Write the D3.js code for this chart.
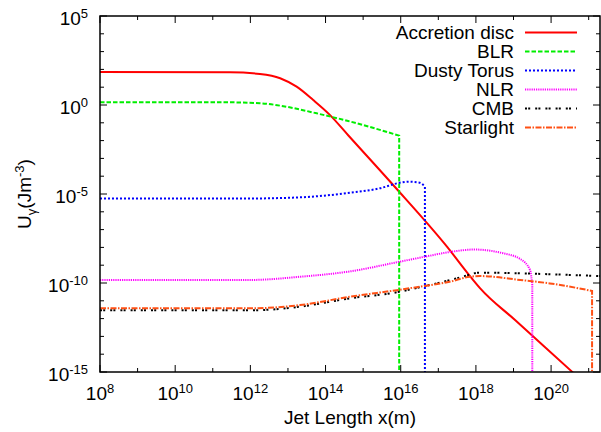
<!DOCTYPE html>
<html>
<head>
<meta charset="utf-8">
<script src="https://cdn.jsdelivr.net/npm/d3@7"></script>
<style>
  body { margin: 0; background: #fff; }
  text { font-family: "Liberation Sans", Arial, Helvetica, sans-serif; }
</style>
</head>
<body>
<div id="chart_container"></div>
<script>

// Data: x = jet length (m), u = energy density (J m^-3)

const discX = [1e8, 2.9e11, 1.8e12, 6.2e12, 1.7e13, 4.7e13, 1.3e14, 4e14, 6.3e15, 1.7e17, 7.8e17, 1.3e18, 1.1e19, 3.6e20, 5.6e20]
const discU = [71, 69, 55, 32, 10.7, 1.9, 0.28, 0.02, 3.2e-5, 1.1e-8, 1.8e-10, 5e-11, 8.3e-13, 1.05e-15, 4.5e-16]

const blrX = [1e8, 2.9e11, 1.8e12, 1.1e13, 5.8e13, 4e14, 9.1e15]
const blrU = [1.41, 1.41, 1.26, 0.74, 0.34, 0.126, 0.019]

const torusX = [1e8, 9.8e11, 2.1e13, 4.5e14, 2.8e15, 9.5e15, 1.7e16, 3.2e16, 4.4e16]
const torusU = [5.6e-6, 5.6e-6, 6.5e-6, 1.17e-5, 2.1e-5, 4.3e-5, 4.9e-5, 4.3e-5, 2.6e-5]

const nlrX = [1e8, 9.8e11, 2.1e13, 4.5e14, 9.5e15, 4.4e16, 2e17, 9.3e17, 4.4e18, 1.5e19, 2.75e19, 3.16e19]
const nlrU = [1.48e-10, 1.48e-10, 2.24e-10, 4.5e-10, 1.58e-9, 3e-9, 5.5e-9, 7.6e-9, 5.1e-9, 2.24e-9, 5.4e-10, 7.8e-11]

const cmbX = [1e8, 9.8e11, 2.1e13, 4.5e14, 7.8e15, 3.2e16, 2.5e17, 6.3e17, 1.15e18, 1.5e19, 9.3e19, 2e21]
const cmbU = [2.9e-12, 2.9e-12, 4.7e-12, 1.38e-11, 3e-11, 5.8e-11, 1.62e-10, 2.8e-10, 3.8e-10, 3.5e-10, 3.1e-10, 2.45e-10]

const starX = [1e8, 9.8e11, 2.1e13, 4.5e14, 8.7e15, 3.2e16, 2e17, 6.9e17, 1.3e18, 1.5e19, 9.3e19, 1.23e21]
const starU = [3.8e-12, 3.8e-12, 5.75e-12, 1.7e-11, 4.1e-11, 6.2e-11, 1.17e-10, 2.24e-10, 2.45e-10, 1.48e-10, 9.5e-11, 3.6e-11]

const xExponents = d3.range(8, 22)
const yExponents = d3.range(-15, 6)

// Layout

const width = 601
const height = 432
const plotLeft = 100
const plotRight = 600
const plotTop = 16
const plotBottom = 372
const fontSize = "19px"
const supSize = "13px"

const series = [
  { name: "Accretion disc", xs: discX, ys: discU, color: "#ff0000", dash: null, w: 2, cut: false },
  { name: "BLR", xs: blrX, ys: blrU, color: "#00ee00", dash: "4.5,2", w: 2, cut: true },
  { name: "Dusty Torus", xs: torusX, ys: torusU, color: "#0000ff", dash: "2,2", w: 2, cut: true },
  { name: "NLR", xs: nlrX, ys: nlrU, color: "#ff00ff", dash: "1.2,1", w: 2, cut: true },
  { name: "CMB", xs: cmbX, ys: cmbU, color: "#000000", dash: "2,1.2,2,5", w: 2, cut: false },
  { name: "Starlight", xs: starX, ys: starU, color: "#ff5014", dash: "6,1.5,1.5,1.5", w: 2, cut: true }
]

const x = d3.scaleLog().domain([1e8, 2e21]).range([plotLeft, plotRight])
const y = d3.scaleLog().domain([1e-15, 1e5]).range([plotBottom, plotTop])

const svg = d3.select("#chart_container").append("svg")
  .attr("width", width)
  .attr("height", height)

svg.append("rect")
  .attr("width", width)
  .attr("height", height)
  .attr("fill", "#fff")

svg.append("clipPath")
  .attr("id", "plotClip")
  .append("rect")
  .attr("x", plotLeft)
  .attr("y", plotTop)
  .attr("width", plotRight - plotLeft)
  .attr("height", plotBottom - plotTop)

// Curves

const line = d3.line()
  .x(d => x(d[0]))
  .y(d => y(d[1]))
  .curve(d3.curveMonotoneX)

const curves = svg.append("g").attr("clip-path", "url(#plotClip)")

series.forEach(s => {
  const pts = s.xs.map((v, i) => [v, s.ys[i]])
  let d = line(pts)
  if (s.cut) {
    // sharp cutoff: straight down past the axis
    const last = pts[pts.length - 1]
    d += `L${x(last[0])},${plotBottom + 10}`
  }
  curves.append("path")
    .attr("d", d)
    .attr("fill", "none")
    .attr("stroke", s.color)
    .attr("stroke-width", s.w)
    .attr("stroke-dasharray", s.dash)
})

// Ticks (inside, mirrored)

const ticks = svg.append("g").attr("stroke", "#000").attr("stroke-width", 1)

xExponents.forEach(e => {
  const px = x(Math.pow(10, e))
  const len = e % 2 === 0 ? 7 : 4
  ticks.append("line").attr("x1", px).attr("x2", px).attr("y1", plotBottom).attr("y2", plotBottom - len)
  ticks.append("line").attr("x1", px).attr("x2", px).attr("y1", plotTop).attr("y2", plotTop + len)
  if (e % 2 === 0 && e <= 20) {
    const t = svg.append("text")
      .attr("x", px)
      .attr("y", 400)
      .attr("text-anchor", "middle")
      .style("font-size", fontSize)
    t.append("tspan").text("10")
    t.append("tspan").attr("dy", -7).style("font-size", supSize).text(e)
  }
})

yExponents.forEach(e => {
  const py = y(Math.pow(10, e))
  const len = e % 5 === 0 ? 7 : 4
  ticks.append("line").attr("x1", plotLeft).attr("x2", plotLeft + len).attr("y1", py).attr("y2", py)
  ticks.append("line").attr("x1", plotRight).attr("x2", plotRight - len).attr("y1", py).attr("y2", py)
  if (e % 5 === 0) {
    const t = svg.append("text")
      .attr("x", 88)
      .attr("y", py + 8.5)
      .attr("text-anchor", "end")
      .style("font-size", fontSize)
    t.append("tspan").text("10")
    t.append("tspan").attr("dy", -7).style("font-size", supSize).text(e)
  }
})

// Frame

svg.append("rect")
  .attr("x", plotLeft)
  .attr("y", plotTop)
  .attr("width", plotRight - plotLeft)
  .attr("height", plotBottom - plotTop)
  .attr("fill", "none")
  .attr("stroke", "#000")
  .attr("stroke-width", 1.5)

// Axis titles

svg.append("text")
  .attr("x", (plotLeft + plotRight) / 2)
  .attr("y", 424)
  .attr("text-anchor", "middle")
  .style("font-size", fontSize)
  .text("Jet Length x(m)")

const yTitle = svg.append("text")
  .attr("transform", `translate(31, ${(plotTop + plotBottom) / 2}) rotate(-90)`)
  .attr("text-anchor", "middle")
  .style("font-size", fontSize)
yTitle.append("tspan").text("U")
yTitle.append("tspan").attr("dy", 5).style("font-size", supSize).text("γ")
yTitle.append("tspan").attr("dy", -5).text("(Jm")
yTitle.append("tspan").attr("dy", -7).style("font-size", supSize).text("-3")
yTitle.append("tspan").attr("dy", 7).text(")")

// Legend

const legend = svg.append("g")

series.forEach((s, i) => {
  const ly = 32.5 + i * 19
  legend.append("text")
    .attr("x", 514)
    .attr("y", ly + 6.5)
    .attr("text-anchor", "end")
    .style("font-size", fontSize)
    .text(s.name)
  legend.append("line")
    .attr("x1", 525)
    .attr("x2", 577)
    .attr("y1", ly)
    .attr("y2", ly)
    .attr("stroke", s.color)
    .attr("stroke-width", s.w)
    .attr("stroke-dasharray", s.dash)
})

</script>
</body>
</html>
